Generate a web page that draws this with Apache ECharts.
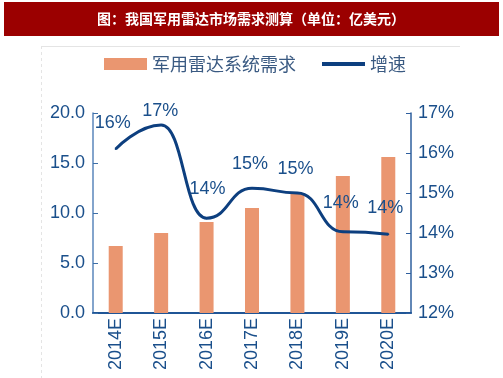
<!DOCTYPE html>
<html><head><meta charset="utf-8">
<script src="https://cdn.jsdelivr.net/npm/echarts@6/dist/echarts.min.js"></script>
<style>html,body{margin:0;padding:0;background:#fff}#c{width:503px;height:378px}</style>
</head><body><div id="c"></div>
<script>
const categories = ['2014E','2015E','2016E','2017E','2018E','2019E','2020E'];
const demand = [6.7, 8.0, 9.1, 10.5, 12.0, 13.7, 15.6];
const growth = [16.1, 16.7, 14.37, 15.12, 15.0, 14.03, 13.97];
const leftTicks = {min: 0, max: 20, interval: 5};
const rightTicks = {min: 12, max: 17, interval: 1};

const labelShift = [[-3,-16],[-1,-4],[1,-19],[-2,-14],[-2,-14],[-2,-19],[-3,-16]];
const blue = '#1a4f8b';
const axisBlue = '#3d6fa8';
const latin = 'Arial, "Liberation Sans", sans-serif';
const cjk = '"Noto Sans CJK SC", sans-serif';

const chart = echarts.init(document.getElementById('c'), null, {renderer: 'canvas'});
chart.setOption({
  animation: false,
  graphic: [
    {type: 'rect', shape: {x: 4, y: 2, width: 495, height: 34}, style: {fill: '#9b0000'}},
    {type: 'text', x: 251, y: 19, style: {text: '图：我国军用雷达市场需求测算（单位：亿美元）', fill: '#fff', font: 'bold 14px ' + cjk, align: 'center', verticalAlign: 'middle'}},
    {type: 'line', shape: {x1: 41, y1: 46.5, x2: 460, y2: 46.5}, style: {stroke: '#e4e4e4', lineWidth: 1}},
    {type: 'line', shape: {x1: 41.5, y1: 46, x2: 41.5, y2: 378}, style: {stroke: '#e4e4e4', lineWidth: 1, lineDash: [3, 3]}}
  ],
  legend: [
    {data: ['军用雷达系统需求'], left: 99, top: 50, itemWidth: 43, itemHeight: 12, icon: 'rect', itemGap: 0,
     textStyle: {fontFamily: cjk, fontSize: 18, color: '#3a5a82'}},
    {data: ['增速'], left: 317, top: 50, itemWidth: 43, itemHeight: 4, icon: 'rect', itemGap: 0,
     textStyle: {fontFamily: cjk, fontSize: 18, color: '#3a5a82'}}
  ],
  grid: {left: 93, right: 92, top: 113, bottom: 65, containLabel: false},
  xAxis: {
    type: 'category', data: categories, boundaryGap: true,
    axisLine: {lineStyle: {color: '#1f5596', width: 2}},
    axisTick: {inside: true, length: 5, lineStyle: {color: axisBlue}},
    axisLabel: {rotate: 90, margin: 5, fontFamily: latin, fontSize: 18, color: blue}
  },
  yAxis: [
    {type: 'value', min: leftTicks.min, max: leftTicks.max, interval: leftTicks.interval, position: 'left',
     axisLine: {show: true, lineStyle: {color: '#5a86bb', width: 1.5}},
     axisTick: {show: true, inside: true, length: 5, lineStyle: {color: axisBlue}},
     axisLabel: {margin: 8, fontFamily: latin, fontSize: 18, color: blue, formatter: v => v.toFixed(1)},
     splitLine: {show: false}},
    {type: 'value', min: rightTicks.min, max: rightTicks.max, interval: rightTicks.interval, position: 'right',
     axisLine: {show: true, lineStyle: {color: '#2e5f9e', width: 1.5}},
     axisTick: {show: true, inside: true, length: 5, lineStyle: {color: '#2e5f9e'}},
     axisLabel: {margin: 7, fontFamily: latin, fontSize: 18, color: blue, formatter: v => v + '%'},
     splitLine: {show: false}}
  ],
  series: [
    {name: '军用雷达系统需求', type: 'bar', data: demand, barWidth: 14, yAxisIndex: 0,
     itemStyle: {color: '#ea9670'}},
    {name: '增速', type: 'line', yAxisIndex: 1, smooth: 0.5, smoothMonotone: 'x',
     showSymbol: true, symbol: 'circle', symbolSize: 2,
     lineStyle: {color: '#0d3f7f', width: 3}, itemStyle: {color: '#0d3f7f'},
     data: growth.map((v, i) => ({value: v, label: {offset: labelShift[i]}})),
     label: {show: true, position: 'top', distance: 0, fontFamily: latin, fontSize: 18, color: blue,
       formatter: p => Math.round(p.value) + '%'}}
  ]
});
</script></body></html>
